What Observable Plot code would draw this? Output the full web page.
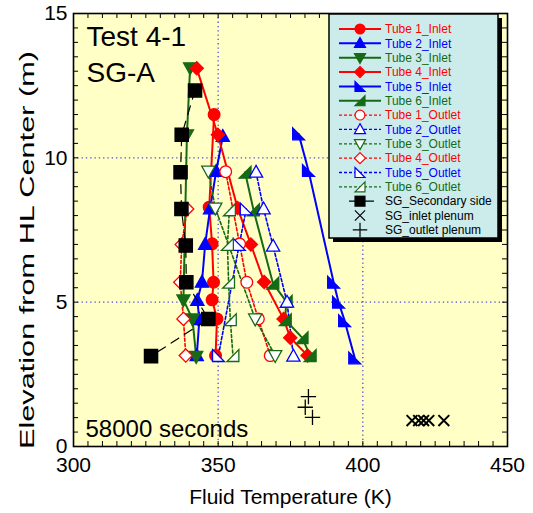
<!DOCTYPE html>
<html><head><meta charset="utf-8">
<script src="https://cdn.jsdelivr.net/npm/d3@7"></script>
<script src="https://cdn.jsdelivr.net/npm/@observablehq/plot@0.6"></script>
<style>
body{margin:0;background:#fff;}
#chart{position:relative;width:533px;height:513px;}
svg{font-family:"Liberation Sans",Arial,sans-serif;}
</style>
</head><body><div id="chart"></div>
<script>
// ---------- tick values ----------
const xTickValues = [300, 350, 400, 450];
const yTickValues = [0, 5, 10, 15];
const xMinorTicks = d3.range(300, 451, 5);
const yMinorTicks = d3.range(0, 15.01, 0.5);
const xGridValues = [350, 400];
const yGridValues = [5, 10];

// ---------- data (elevation m, temperature K) ----------
const tube1InletElev = [11.5, 8.29, 7.02, 5.69, 5.08, 4.42, 3.15];
const tube1InletTemp = [348.6, 346.9, 347.9, 348.4, 347.9, 349.6, 349.1];
const tube2InletElev = [10.74, 9.53, 8.23, 7.0, 5.69, 5.06, 4.39, 3.15];
const tube2InletTemp = [351.6, 349.3, 347.2, 345.5, 344.4, 342.8, 343.5, 342.6];
const tube3InletElev = [13.12, 10.8, 5.08, 4.42, 3.12];
const tube3InletTemp = [340.3, 339.2, 338.0, 341.1, 342.4];
const tube4InletElev = [13.1, 10.8, 8.26, 7.0, 5.7, 4.42, 3.77, 3.15];
const tube4InletTemp = [342.6, 349.9, 356.7, 361.3, 365.9, 372.6, 374.9, 380.9];
const tube5InletElev = [10.83, 9.56, 5.69, 5.0, 4.36, 3.07];
const tube5InletTemp = [377.8, 381.2, 389.9, 391.6, 393.7, 397.2];
const tube6InletElev = [9.5, 8.2, 5.66, 5.03, 4.39, 3.77, 3.15];
const tube6InletTemp = [359.3, 362.2, 368.9, 373.5, 373.2, 379.0, 381.8];

const tube1OutletElev = [9.52, 7.02, 5.69, 4.42, 3.15];
const tube1OutletTemp = [352.6, 357.4, 359.9, 363.9, 368.0];
const tube2OutletElev = [9.5, 8.23, 6.94, 5.0, 3.13];
const tube2OutletTemp = [363.1, 365.7, 369.0, 373.8, 376.0];
const tube3OutletElev = [9.54, 8.26, 4.42, 3.15];
const tube3OutletTemp = [346.6, 349.0, 362.8, 369.7];
const tube4OutletElev = [8.23, 7.0, 5.69, 4.42, 3.15];
const tube4OutletTemp = [339.3, 337.4, 336.9, 338.0, 338.8];
const tube5OutletElev = [8.23, 7.0, 3.15];
const tube5OutletTemp = [359.7, 357.3, 350.1];
const tube6OutletElev = [8.2, 7.0, 5.69, 4.39, 3.15];
const tube6OutletTemp = [353.9, 353.2, 353.6, 354.2, 355.1];

const secondaryElev = [12.33, 10.8, 9.5, 8.23, 6.96, 5.69, 4.42, 3.13];
const secondaryTemp = [342.0, 337.4, 337.0, 337.3, 338.8, 339.0, 346.6, 326.8];

const inletPlenumElev = [0.9, 0.9, 0.9, 0.9, 0.9];
const inletPlenumTemp = [417.0, 419.3, 421.0, 422.8, 428.0];
const outletPlenumElev = [1.73, 1.36, 1.01];
const outletPlenumTemp = [381.2, 380.1, 382.6];

// ---------- text ----------
const titleLines = ["Test 4-1", "SG-A"];
const timeLabel = "58000 seconds";
const xLabel = "Fluid Temperature (K)";
const yLabel = "Elevation from HL Center (m)";

// ---------- symbols ----------
function makeSym(points, k = 0.62) {
  return {draw(ctx, size) {
    const h = Math.sqrt(size) * k;
    ctx.moveTo(points[0][0] * h, points[0][1] * h);
    for (const p of points.slice(1)) ctx.lineTo(p[0] * h, p[1] * h);
    ctx.closePath();
  }};
}
const symCircle = {draw(ctx, size) { const r = Math.sqrt(size) * 0.55; ctx.moveTo(r, 0); ctx.arc(0, 0, r, 0, 2 * Math.PI); }};
const symTriUp = makeSym([[0, -1.05], [1, 0.75], [-1, 0.75]]);
const symTriDown = makeSym([[0, 1.05], [1, -0.75], [-1, -0.75]]);
const symDiamond = makeSym([[0, -1], [1, 0], [0, 1], [-1, 0]]);
const symRt5 = makeSym([[-0.9, -0.9], [-0.9, 0.9], [0.9, 0.9]]);
const symRt6 = makeSym([[0.9, -0.9], [0.9, 0.9], [-0.9, 0.9]]);
const symSquare = makeSym([[-0.9, -0.9], [0.9, -0.9], [0.9, 0.9], [-0.9, 0.9]]);

const RED = "#ff0000", BLUE = "#0000ff", GREEN = "#166a16";

const series = [
  {name: "Tube 1_Inlet", color: RED, sym: symCircle, open: false, elev: tube1InletElev, temp: tube1InletTemp},
  {name: "Tube 2_Inlet", color: BLUE, sym: symTriUp, open: false, elev: tube2InletElev, temp: tube2InletTemp},
  {name: "Tube 3_Inlet", color: GREEN, sym: symTriDown, open: false, elev: tube3InletElev, temp: tube3InletTemp},
  {name: "Tube 4_Inlet", color: RED, sym: symDiamond, open: false, elev: tube4InletElev, temp: tube4InletTemp},
  {name: "Tube 5_Inlet", color: BLUE, sym: symRt5, open: false, elev: tube5InletElev, temp: tube5InletTemp},
  {name: "Tube 6_Inlet", color: GREEN, sym: symRt6, open: false, elev: tube6InletElev, temp: tube6InletTemp},
  {name: "Tube 1_Outlet", color: RED, sym: symCircle, open: true, elev: tube1OutletElev, temp: tube1OutletTemp},
  {name: "Tube 2_Outlet", color: BLUE, sym: symTriUp, open: true, elev: tube2OutletElev, temp: tube2OutletTemp},
  {name: "Tube 3_Outlet", color: GREEN, sym: symTriDown, open: true, elev: tube3OutletElev, temp: tube3OutletTemp},
  {name: "Tube 4_Outlet", color: RED, sym: symDiamond, open: true, elev: tube4OutletElev, temp: tube4OutletTemp},
  {name: "Tube 5_Outlet", color: BLUE, sym: symRt5, open: true, elev: tube5OutletElev, temp: tube5OutletTemp},
  {name: "Tube 6_Outlet", color: GREEN, sym: symRt6, open: true, elev: tube6OutletElev, temp: tube6OutletTemp}
];
const rowsOf = (s) => s.elev.map((e, i) => ({elev: e, temp: s.temp[i]}));

const marks = [
  Plot.frame({fill: "#ffffc6", stroke: null}),
  Plot.ruleX(xGridValues, {x: d => d, stroke: "#4b4bd6", strokeWidth: 1.3, strokeDasharray: "1.3,3"}),
  Plot.ruleY(yGridValues, {y: d => d, stroke: "#4b4bd6", strokeWidth: 1.3, strokeDasharray: "1.3,3"})
];
for (const s of series) {
  marks.push(Plot.line(rowsOf(s), {x: "temp", y: "elev", stroke: s.color,
    strokeWidth: s.open ? 1.6 : 2, strokeDasharray: s.open ? "3,2.2" : null}));
}
for (const s of series) {
  marks.push(Plot.dot(rowsOf(s), {x: "temp", y: "elev", symbol: s.sym, r: 6,
    fill: s.open ? "white" : s.color, stroke: s.color, strokeWidth: 1.3}));
}
const secRows = secondaryElev.map((e, i) => ({elev: e, temp: secondaryTemp[i]}));
marks.push(
  Plot.line(secRows, {x: "temp", y: "elev", stroke: "black", strokeWidth: 1.2, strokeDasharray: "9,7"}),
  Plot.dot(secRows, {x: "temp", y: "elev", symbol: symSquare, r: 6.6, fill: "black", stroke: "black"}),
  Plot.dot(inletPlenumElev.map((e, i) => ({elev: e, temp: inletPlenumTemp[i]})),
    {x: "temp", y: "elev", symbol: "times", r: 5, stroke: "black", strokeWidth: 2}),
  Plot.dot(outletPlenumElev.map((e, i) => ({elev: e, temp: outletPlenumTemp[i]})),
    {x: "temp", y: "elev", symbol: "plus", r: 5, stroke: "black", strokeWidth: 1.3})
);
// inward ticks
const PH = 513 - 13 - 67, PW = 533 - 73 - 26;
marks.push(
  Plot.tickX(xMinorTicks, {x: d => d, insetTop: PH - 5, stroke: "black"}),
  Plot.tickX(xMinorTicks, {x: d => d, insetBottom: PH - 5, stroke: "black"}),
  Plot.tickY(yMinorTicks, {y: d => d, insetRight: PW - 5, stroke: "black"}),
  Plot.tickY(yMinorTicks, {y: d => d, insetLeft: PW - 5, stroke: "black"}),
  Plot.axisX({ticks: xTickValues, tickSize: 0, tickPadding: 11, fontSize: 21, label: null, tickFormat: d => String(d)}),
  Plot.axisY({ticks: yTickValues, tickSize: 0, tickPadding: 6, fontSize: 21, label: null, tickFormat: d => String(d)}),
  Plot.frame({stroke: "black", strokeWidth: 1.6}),
  Plot.text([titleLines[0]], {frameAnchor: "top-left", lineAnchor: "bottom", textAnchor: "start", dx: 13, dy: 32, fontSize: 28, fill: "black"}),
  Plot.text([titleLines[1]], {frameAnchor: "top-left", lineAnchor: "bottom", textAnchor: "start", dx: 13, dy: 68, fontSize: 28, fill: "black"}),
  Plot.text([timeLabel], {frameAnchor: "bottom-left", lineAnchor: "bottom", textAnchor: "start", dx: 12, dy: -10, fontSize: 24, fill: "black"}),
  Plot.text([xLabel], {frameAnchor: "bottom", lineAnchor: "bottom", dy: 57, fontSize: 21, fill: "black"})
);

const svgEl = Plot.plot({
  width: 533, height: 513,
  marginLeft: 73, marginRight: 26, marginTop: 13, marginBottom: 67,
  x: {domain: [300, 450]},
  y: {domain: [0, 15]},
  style: {background: "white", color: "black", fontFamily: "Liberation Sans, Arial, sans-serif"},
  marks
});
document.getElementById("chart").appendChild(svgEl);

const svg = d3.select(svgEl);
// y-axis title
svg.append("text")
  .attr("transform", "translate(34,250) rotate(-90)")
  .attr("text-anchor", "middle")
  .attr("font-size", 21)
  .attr("textLength", 398)
  .attr("lengthAdjust", "spacingAndGlyphs")
  .attr("fill", "black")
  .text(yLabel);

// ---------- legend ----------
const lg = svg.append("g").attr("text-anchor", "start");
const bx = 329, by = 14, bw = 169, bh = 224;
lg.append("rect").attr("x", bx + 4).attr("y", by + 4).attr("width", bw).attr("height", bh).attr("fill", "black");
lg.append("rect").attr("x", bx).attr("y", by).attr("width", bw).attr("height", bh).attr("fill", "#ccecec").attr("stroke", "black").attr("stroke-width", 1.5);
const rowY = (i) => 29 + i * 14.35;
series.forEach((s, i) => {
  const y = rowY(i);
  lg.append("line").attr("x1", 339).attr("x2", 381).attr("y1", y).attr("y2", y)
    .attr("stroke", s.color).attr("stroke-width", s.open ? 1.3 : 2).attr("stroke-dasharray", s.open ? "3,2" : null);
  lg.append("path").attr("d", d3.symbol().type(s.sym).size(80)()).attr("transform", `translate(360,${y})`)
    .attr("fill", s.open ? "white" : s.color).attr("stroke", s.color).attr("stroke-width", 1.2);
  lg.append("text").attr("x", 385).attr("y", y).attr("dy", "0.35em").attr("font-size", 12).attr("text-anchor", "start").attr("fill", s.color).text(s.name);
});
const extra = [
  {name: "SG_Secondary side", kind: "sec"},
  {name: "SG_inlet plenum", kind: "times"},
  {name: "SG_outlet plenum", kind: "plus"}
];
extra.forEach((e, j) => {
  const y = rowY(12 + j);
  if (e.kind === "sec") {
    lg.append("line").attr("x1", 349).attr("x2", 381).attr("y1", y).attr("y2", y)
      .attr("stroke", "black").attr("stroke-width", 1.2).attr("stroke-dasharray", "9,7");
    lg.append("path").attr("d", d3.symbol().type(symSquare).size(100)()).attr("transform", `translate(360,${y})`).attr("fill", "black");
  } else {
    lg.append("path").attr("d", d3.symbol().type(e.kind === "times" ? d3.symbolTimes : d3.symbolPlus).size(70)())
      .attr("transform", `translate(360,${y})`).attr("fill", "none").attr("stroke", "black").attr("stroke-width", 1.2);
  }
  lg.append("text").attr("x", 385).attr("y", y).attr("dy", "0.35em").attr("font-size", 12).attr("text-anchor", "start").attr("fill", "black").text(e.name);
});
</script>
</body></html>
